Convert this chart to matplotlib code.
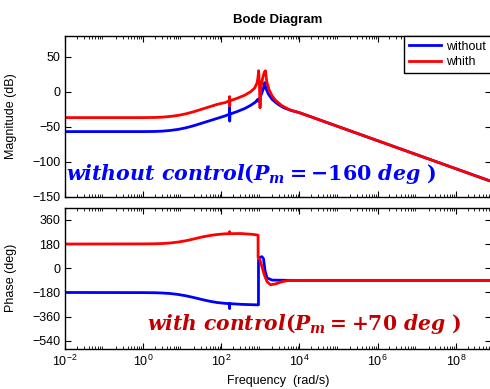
import matplotlib
matplotlib.use("Agg")
import matplotlib.pyplot as plt
from matplotlib.ticker import LogLocator, NullFormatter, FixedLocator
import numpy as np

plt.rcParams["font.family"] = ["Liberation Sans", "DejaVu Sans"]
plt.rcParams["mathtext.fontset"] = "custom"
plt.rcParams["mathtext.it"] = "DejaVu Serif:italic:bold"
plt.rcParams["mathtext.rm"] = "DejaVu Serif:bold"
plt.rcParams["mathtext.bf"] = "DejaVu Serif:bold"

# log10 of frequency (rad/s) and values
mag_without_logw = [-2, 0, 0.3, 0.5, 0.7, 0.9, 1.1, 1.3, 1.5, 1.7, 1.9, 2.1, 2.21, 2.212, 2.214, 2.22,
                    2.4, 2.6, 2.75, 2.87, 2.93, 2.95, 2.97, 3.03, 3.08, 3.11, 3.14, 3.2, 3.3,
                    3.45, 3.6, 3.8, 4.0, 9.0]
mag_without_db = [-57, -57, -56.8, -56.3, -55.3, -53.8, -51.5, -48.5, -45, -41.5, -38, -34.5, -32, -22, -42, -32,
                  -28.5, -24, -19.5, -15, -11, -14, -11, -3, 5, 13, 5, -3, -11,
                  -18, -23, -27, -30, -130]

mag_with_logw = [-2, 0, 0.3, 0.5, 0.7, 0.9, 1.1, 1.3, 1.5, 1.7, 1.9, 2.1, 2.21, 2.212, 2.214, 2.22,
                 2.4, 2.6, 2.75, 2.85, 2.91, 2.935, 2.955, 2.975, 2.99, 3.01, 3.06, 3.1, 3.13,
                 3.16, 3.22, 3.3, 3.4, 3.55, 3.75, 4.0, 9.0]
mag_with_db = [-37, -37, -36.8, -36.3, -35.3, -33.8, -31.5, -28.5, -25, -21.5, -18, -15.5, -13, -7, -20, -13,
               -9.5, -5, 0, 5, 12, 19, 30, 10, -23, 5, 20, 28, 30,
               15, 3, -6, -13, -20, -26, -30, -130]

ph_without_logw = [-2, 0, 0.3, 0.5, 0.7, 0.9, 1.1, 1.3, 1.5, 1.7, 1.9, 2.1, 2.21, 2.212, 2.214, 2.22,
                   2.5, 2.8, 2.95, 2.951, 2.97, 3.04, 3.08, 3.12, 3.17, 3.3, 3.8, 9.0]
ph_without_deg = [-180, -181, -182, -184, -188, -195, -205, -218, -232, -245, -255, -261, -263, -300, -263, -263,
                  -268, -271, -272, 60, 80, 86, 70, -20, -72, -88, -90, -90]

ph_with_logw = [-2, 0, 0.3, 0.5, 0.7, 0.9, 1.1, 1.3, 1.5, 1.7, 1.9, 2.1, 2.21, 2.212, 2.214, 2.22,
                2.5, 2.8, 2.94, 2.941, 2.99, 3.04, 3.1, 3.17, 3.26, 3.4, 3.55, 3.72, 4.0, 9.0]
ph_with_deg = [180, 181, 182, 184, 188, 195, 205, 218, 232, 243, 251, 256, 257, 272, 257, 257,
               258, 252, 246, 80, 61, 12, -50, -99, -123, -115, -100, -91, -90, -90]

legend_labels = ["without", "whith"]
blue = "#0000ff"
red = "#ff0000"

fig = plt.figure(figsize=(4.9, 3.89), dpi=100)
W, H = 490.0, 389.0
left, right = 65 / W, 491 / W
ax1 = fig.add_axes([left, (H - 196.7) / H, right - left, 161 / H])
ax2 = fig.add_axes([left, (H - 349) / H, right - left, 141.3 / H])

lw = 2.0
ax1.plot(10 ** np.array(mag_without_logw), mag_without_db, color=blue, lw=lw, label=legend_labels[0])
ax1.plot(10 ** np.array(mag_with_logw), mag_with_db, color=red, lw=lw, label=legend_labels[1])
ax2.plot(10 ** np.array(ph_without_logw), ph_without_deg, color=blue, lw=lw)
ax2.plot(10 ** np.array(ph_with_logw), ph_with_deg, color=red, lw=lw)

for ax in (ax1, ax2):
    ax.set_xscale("log")
    ax.set_xlim(1e-2, 10 ** 8.9)
    ax.xaxis.set_major_locator(FixedLocator([1e-2, 1e0, 1e2, 1e4, 1e6, 1e8]))
    ax.xaxis.set_minor_locator(LogLocator(base=10, subs=np.arange(2, 10), numticks=30))
    ax.xaxis.set_minor_formatter(NullFormatter())
    ax.tick_params(which="both", direction="in", top=True, right=True, labelsize=9)
    ax.tick_params(which="major", length=4)
    ax.tick_params(which="minor", length=2)
    for s in ax.spines.values():
        s.set_linewidth(1.0)

ax1.set_ylim(-150, 80)
ax1.set_yticks([50, 0, -50, -100, -150])
ax1.tick_params(labelbottom=False)
ax1.set_ylabel("Magnitude (dB)", fontsize=9)
ax1.yaxis.set_label_coords(-0.113, 0.5)
ax1.set_title("Bode Diagram", fontsize=9.5, fontweight="bold", pad=9)
leg = ax1.legend(loc="upper right", borderaxespad=0, fontsize=9, fancybox=False,
                 edgecolor="black", framealpha=1, handlelength=2.6, borderpad=0.4,
                 labelspacing=0.3, handletextpad=0.4)
leg.get_frame().set_linewidth(1.0)

ax2.set_ylim(-600, 450)
ax2.set_yticks([360, 180, 0, -180, -360, -540])
ax2.set_ylabel("Phase (deg)", fontsize=9)
ax2.yaxis.set_label_coords(-0.113, 0.5)
ax2.set_xlabel("Frequency  (rad/s)", fontsize=9, labelpad=4)

fig.text(66 / W, (H - 180) / H, r"$without\ control(P_m=-160\ deg\ )$",
         color="#0000ff", fontsize=14.8, va="baseline", ha="left")
fig.text(147 / W, (H - 330) / H, r"$with\ control(P_m=+70\ deg\ )$",
         color="#c00000", fontsize=14.6, va="baseline", ha="left")

fig.savefig("out.png", dpi=100)
